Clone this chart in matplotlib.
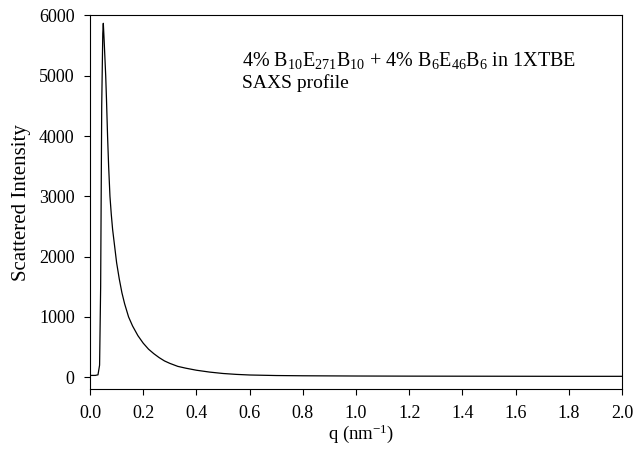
import numpy as np
import matplotlib
matplotlib.use('Agg')
import matplotlib.pyplot as plt

plt.rcParams['font.family'] = ['Liberation Serif', 'DejaVu Serif']
plt.rcParams['mathtext.fontset'] = 'custom'
plt.rcParams['mathtext.rm'] = 'Liberation Serif'
plt.rcParams['mathtext.it'] = 'Liberation Serif:italic'

# SAXS profile
q = [0.0, 0.020, 0.030, 0.036, 0.040, 0.044, 0.048, 0.050, 0.053, 0.056,
     0.059, 0.062, 0.066, 0.070, 0.075, 0.080, 0.085, 0.100, 0.110, 0.120,
     0.130, 0.145, 0.160, 0.180, 0.200, 0.220, 0.240, 0.260, 0.280, 0.300,
     0.330, 0.360, 0.400, 0.450, 0.500, 0.550, 0.600, 0.700, 0.800, 1.000,
     1.200, 1.400, 1.600, 1.800, 2.000]
intensity = [30, 30, 40, 200, 1500, 4500, 5700, 5870, 5600, 5300,
             5000, 4600, 4000, 3500, 3000, 2700, 2450, 1900, 1630, 1400,
             1220, 1000, 850, 690, 565, 465, 390, 325, 270, 230,
             180, 150, 116, 85, 62, 47, 37, 28, 24, 20,
             18, 17, 16, 15, 15]

xticks = [0.0, 0.2, 0.4, 0.6, 0.8, 1.0, 1.2, 1.4, 1.6, 1.8, 2.0]
yticks = [0, 1000, 2000, 3000, 4000, 5000, 6000]

fig = plt.figure(figsize=(6.37, 4.62), dpi=100)
ax = fig.add_axes([0.1413, 0.1574, 0.8352, 0.8091])

ax.plot(q, intensity, color='black', lw=0.9)

ax.set_xlim(0, 2.0)
ax.set_ylim(-200, 6000)
ax.set_xticks(xticks)
ax.set_xticklabels([f'{t:.1f}' for t in xticks])
ax.set_yticks(yticks)
ax.tick_params(direction='out', length=4, width=0.8, labelsize=13, pad=7,
               top=False, right=False)
for s in ax.spines.values():
    s.set_linewidth(0.8)

ax.set_xlabel('q (nm$^{-1}$)', fontsize=13.5)
ax.xaxis.set_label_coords(0.51, -0.088)
ax.set_ylabel('Scattered Intensity', fontsize=15, labelpad=6)

ax.text(0.286, 0.866,
        '4% B$_{10}$E$_{271}$B$_{10}$ + 4% B$_6$E$_{46}$B$_6$ in 1XTBE',
        transform=ax.transAxes, fontsize=14.5, va='baseline', ha='left')
ax.text(0.286, 0.806, 'SAXS profile',
        transform=ax.transAxes, fontsize=14, va='baseline', ha='left')

fig.savefig('out.png', dpi=100)
